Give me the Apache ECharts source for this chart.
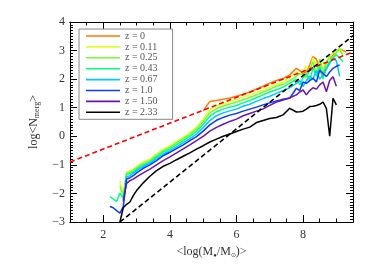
<!DOCTYPE html>
<html><head><meta charset="utf-8">
<script src="https://cdn.jsdelivr.net/npm/echarts@6/dist/echarts.min.js"></script>
<style>html,body{margin:0;padding:0;background:#fff}#c{width:374px;height:267px}</style>
</head><body><div id="c"></div>
<script>
const X = [2.2,2.3,2.4,2.5,2.6,2.7,2.8,2.9,3.0,3.2,3.4,3.6,3.8,4.0,4.2,4.4,4.6,4.8,5.0,5.2,5.4,5.6,5.8,6.0,6.2,6.4,6.6,6.8,7.0,7.2,7.4,7.6,7.8,7.9,8.0,8.1,8.2,8.3,8.4,8.5,8.6,8.7,8.8,8.9,9.0,9.1,9.2,9.3];
const _ = null;
const z000 = [_,_,_,_,_,_,_,_,_,_,_,_,_,_,_,_,_,_,0.88,1.22,1.25,1.3,1.34,1.4,1.47,1.55,1.65,1.75,1.86,1.95,2.02,2.15,2.38,2.3,2.2,2.26,2.5,2.79,2.7,2.3,2.09,2.56,2.7,2.85,2.95,3.08,3.0,2.95];
const z011 = [_,_,_,-1.58,-2.05,-1.25,-1.2,-1.17,-1.05,-0.9,-0.8,-0.62,-0.45,-0.33,-0.18,-0.03,0.12,0.32,0.6,0.92,1.06,1.14,1.22,1.3,1.37,1.45,1.53,1.62,1.72,1.82,1.9,2.05,2.25,2.15,2.3,2.45,2.3,2.75,2.45,2.3,2.6,2.4,2.75,2.95,2.9,3.1,2.9,_];
const z025 = [_,_,_,-1.75,-2.1,-1.3,-1.25,-1.2,-1.1,-0.95,-0.85,-0.67,-0.5,-0.38,-0.23,-0.08,0.07,0.26,0.52,0.82,0.97,1.06,1.13,1.2,1.28,1.36,1.45,1.55,1.65,1.75,1.82,1.95,2.1,2.2,2.15,2.05,2.35,2.6,2.2,2.7,2.25,2.6,2.8,2.7,2.95,3.05,2.8,_];
const z043 = [-2.11,-2.2,-2.28,-1.99,-2.17,-1.35,-1.3,-1.25,-1.15,-1.0,-0.9,-0.72,-0.55,-0.44,-0.3,-0.15,0.0,0.18,0.42,0.7,0.86,0.95,1.02,1.08,1.17,1.25,1.35,1.45,1.55,1.63,1.72,1.85,2.0,1.8,2.05,2.2,1.95,2.4,2.1,2.45,2.0,2.4,2.6,2.75,2.85,2.75,2.6,_];
const z067 = [_,_,_,_,-2.3,-1.42,-1.38,-1.3,-1.2,-1.05,-0.95,-0.78,-0.62,-0.5,-0.37,-0.22,-0.08,0.08,0.3,0.55,0.72,0.82,0.89,0.95,1.05,1.12,1.22,1.32,1.4,1.5,1.6,1.7,1.85,1.95,1.75,1.95,2.1,2.0,2.3,2.0,2.15,2.35,2.55,2.73,2.65,2.1,_,_];
const z100 = [-2.46,-2.5,-2.6,-2.69,-2.46,-1.5,-1.45,-1.38,-1.28,-1.12,-1.0,-0.85,-0.68,-0.56,-0.43,-0.3,-0.15,-0.01,0.18,0.4,0.56,0.66,0.74,0.8,0.88,0.95,1.02,1.1,1.17,1.24,1.3,1.33,1.68,1.6,1.9,1.85,1.95,2.03,1.9,2.32,2.2,2.09,2.25,2.38,2.45,2.5,_,_];
const z150 = [_,_,_,_,-2.25,-1.65,-1.55,-1.5,-1.42,-1.28,-1.15,-1.0,-0.85,-0.72,-0.58,-0.44,-0.3,-0.15,0.0,0.18,0.31,0.42,0.52,0.6,0.72,0.8,0.88,0.96,1.08,1.2,1.27,1.35,1.45,1.55,1.62,1.45,1.6,1.7,1.65,1.8,1.9,1.56,1.95,2.08,1.75,_,_,_];
const z233 = [_,_,_,-3.0,-2.5,-2.38,-2.3,-2.08,-1.9,-1.63,-1.4,-1.2,-1.05,-0.95,-0.82,-0.7,-0.58,-0.45,-0.33,-0.2,-0.1,0.0,0.08,0.17,0.25,0.32,0.48,0.55,0.62,0.66,0.75,0.98,0.85,0.86,0.88,0.95,1.04,1.05,1.08,1.12,1.2,0.98,0.0,1.33,1.1,_,_,_];
const names = ['z = 0','z = 0.11','z = 0.25','z = 0.43','z = 0.67','z = 1.0','z = 1.50','z = 2.33'];
const colors = ['#ff7a00','#e2ff2a','#6dff2e','#00ff86','#00c8ff','#0a3cff','#6a14b4','#000000'];
const ys = [z000,z011,z025,z043,z067,z100,z150,z233];
const redLineX = [1, 9.5], redLineY = [-0.9, 2.95];
const blackLineX = [2.5, 9.5], blackLineY = [-3.0, 3.52];
const xLabels = [2,4,6,8];

const FONT = 'Liberation Serif';
const chart = echarts.init(document.getElementById('c'), null, {renderer:'canvas'});
const series = ys.map((arr,i)=>({
  name: names[i], type:'line', symbol:'none', xAxisIndex:0, yAxisIndex:0,
  data: X.map((x,j)=>[x, arr[j]]), connectNulls:false,
  lineStyle:{color:colors[i], width:1.5}, itemStyle:{color:colors[i]}, z: 3
}));
series.push({type:'line', symbol:'none', data: redLineX.map((x,i)=>[x,redLineY[i]]),
  lineStyle:{color:'#ff0000', width:1.6, type:[5,3]}, z:4, silent:true});
series.push({type:'line', symbol:'none', data: blackLineX.map((x,i)=>[x,blackLineY[i]]),
  lineStyle:{color:'#000', width:1.6, type:[5,3]}, z:4, silent:true});

const axLine = {show:true, onZero:false, lineStyle:{color:'#000', width:1}};
function xa(pos, major, withLabel){
  return {type:'value', min:1, max:9.5, position:pos, gridIndex:0,
    interval: 0.5,
    axisLine: axLine,
    axisTick: major ? {show:true, inside:true, length:7, customValues:xLabels, lineStyle:{color:'#000'}} : {show:true, inside:true, length:3.5, lineStyle:{color:'#000'}},
    axisLabel: withLabel ? {show:true, customValues:xLabels, fontFamily:FONT, fontSize:12, color:'#333', margin:7} : {show:false},
    splitLine:{show:false},
    name: withLabel ? '<log(M{s|\u25CF}/M{s|\u2299})>' : '',
    nameLocation:'middle', nameGap: 22,
    nameTextStyle:{fontFamily:FONT, fontSize:12, color:'#333', rich:{s:{fontSize:6, fontFamily:FONT, color:'#333', padding:[7,0,0,0]}}}
  };
}
function ya(pos, withLabel){
  return {type:'value', min:-3, max:4, interval:1, position:pos, gridIndex:0,
    axisLine: axLine,
    axisTick:{show:true, inside:true, length:7, lineStyle:{color:'#000'}},
    minorTick:{show:true, splitNumber:10, length:3, lineStyle:{color:'#000'}},
    axisLabel: withLabel ? {show:true, fontFamily:FONT, fontSize:12, color:'#333', margin:5, formatter:v=>String(v).replace('-','\u2212')} : {show:false},
    splitLine:{show:false}, minorSplitLine:{show:false},
    name: withLabel ? 'log<N{s|merg}>' : '',
    nameLocation:'middle', nameGap: 26, nameRotate: 90,
    nameTextStyle:{fontFamily:FONT, fontSize:12, color:'#333', rich:{s:{fontSize:8, fontFamily:FONT, color:'#333', padding:[6,0,0,0]}}}
  };
}
chart.setOption({
  animation:false,
  backgroundColor:'#fff',
  grid:{left:70, right:21, top:22, bottom:45},
  legend:{data:names, orient:'vertical', left:79, top:29, padding:[2,15,2,7], itemGap:0.9, itemWidth:34, itemHeight:8,
    icon:'path://M0,0 H34 V1.6 H0 Z',
    borderColor:'#888', borderWidth:1, backgroundColor:'#fff',
    textStyle:{fontFamily:FONT, fontSize:10, color:'#555', lineHeight:8}, z:10},
  xAxis:[xa('bottom',false,true), xa('bottom',true,false), xa('top',false,false), xa('top',true,false)],
  yAxis:[ya('left',true), ya('right',false)],
  series: series
});
</script></body></html>
